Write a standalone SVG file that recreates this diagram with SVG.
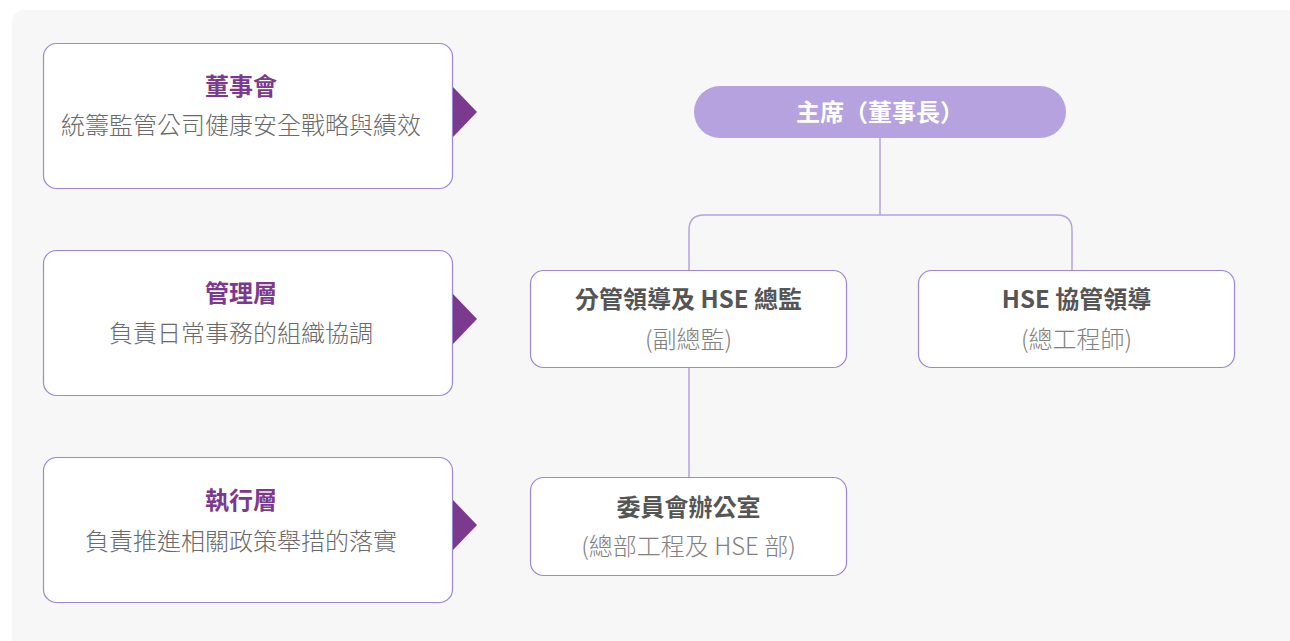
<svg xmlns="http://www.w3.org/2000/svg" width="1290" height="641" viewBox="0 0 1290 641">
<style>
.panel{fill:#f7f7f7}
.box{fill:#fff;stroke:#9c86d8;stroke-width:1.2}
.tri{fill:#7b3a8d}
.t{font-family:"Noto Sans CJK TC","Noto Sans",sans-serif;text-anchor:middle;font-size:24px}
.lt{font-weight:bold;fill:#7b3a8d}
.ld{fill:#6a6a6a;font-weight:300}
.nt{font-weight:bold;fill:#555}
.ns{fill:#808080;font-weight:300}
.pt{font-weight:bold;fill:#fff}
.conn{fill:none;stroke:#b5a2de;stroke-width:1.5}
</style>
<rect class="panel" x="12" y="10" width="1300" height="660" rx="12"/>
<g id="level-board">
<rect class="box" x="43.5" y="43.5" width="409" height="145" rx="13"/>
<polygon class="tri" points="453,87 477,112 453,137"/>
<text class="t lt" x="241" y="95">董事會</text>
<text class="t ld" x="241" y="134">統籌監管公司健康安全戰略與績效</text>
</g>
<g id="level-management">
<rect class="box" x="43.5" y="250.5" width="409" height="145" rx="13"/>
<polygon class="tri" points="453,294 477,319 453,344"/>
<text class="t lt" x="241" y="302">管理層</text>
<text class="t ld" x="241" y="342">負責日常事務的組織協調</text>
</g>
<g id="level-execution">
<rect class="box" x="43.5" y="457.5" width="409" height="145" rx="13"/>
<polygon class="tri" points="453,500 477,525 453,550"/>
<text class="t lt" x="241" y="509">執行層</text>
<text class="t ld" x="241" y="550">負責推進相關政策舉措的落實</text>
</g>
<g id="connectors">
<path class="conn" d="M880,138 V215"/>
<path class="conn" d="M689,270 V230 Q689,215 704,215 H1057 Q1072,215 1072,230 V270"/>
<path class="conn" d="M689,368 V477"/>
</g>
<g id="chairman">
<rect x="694" y="86" width="372" height="52" rx="26" fill="#b5a2de"/>
<text class="t pt" x="880" y="121">主席（董事長）</text>
</g>
<g id="deputy">
<rect class="box" x="530.5" y="270.5" width="316" height="97" rx="13"/>
<text class="t nt" x="688.5" y="308">分管領導及 HSE 總監</text>
<text class="t ns" x="688.5" y="348">(副總監)</text>
</g>
<g id="chief-engineer">
<rect class="box" x="918.5" y="270.5" width="316" height="97" rx="13"/>
<text class="t nt" x="1076.5" y="308">HSE 協管領導</text>
<text class="t ns" x="1076.5" y="348">(總工程師)</text>
</g>
<g id="committee-office">
<rect class="box" x="530.5" y="477.5" width="316" height="98" rx="13"/>
<text class="t nt" x="688.5" y="516">委員會辦公室</text>
<text class="t ns" x="688.5" y="555">(總部工程及 HSE 部)</text>
</g>
</svg>
